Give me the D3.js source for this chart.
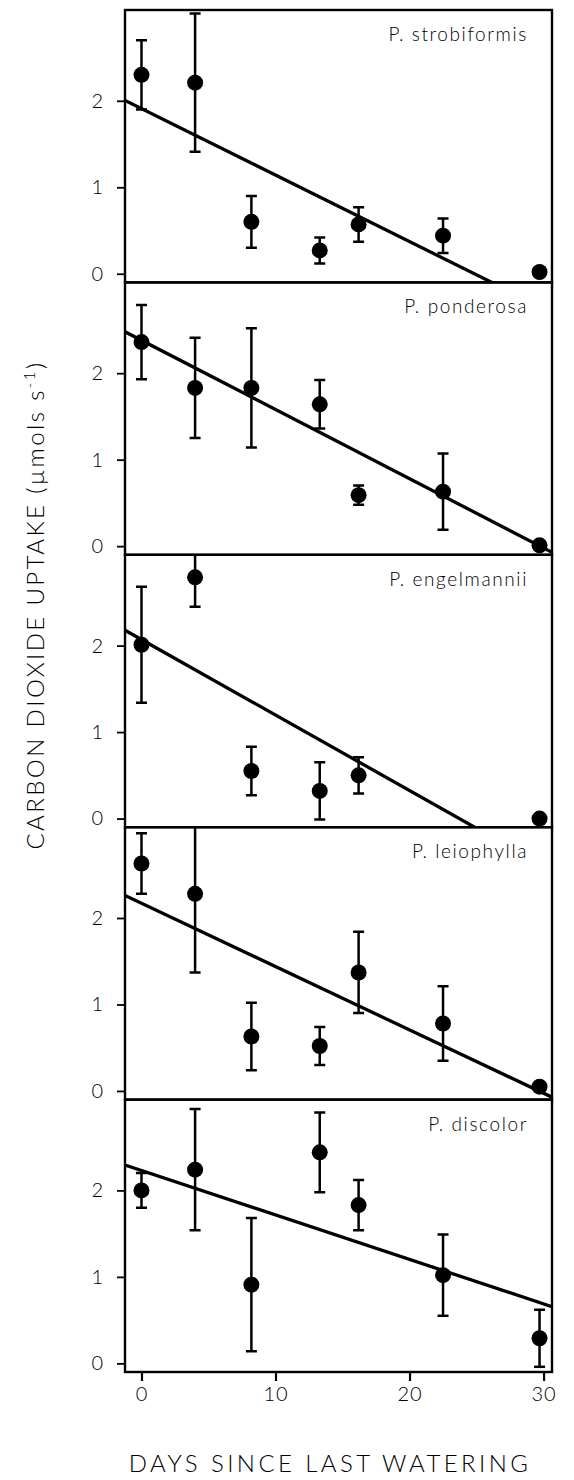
<!DOCTYPE html>
<html>
<head>
<meta charset="utf-8">
<script src="https://cdn.jsdelivr.net/npm/d3@7"></script>
<style>
  body { margin: 0; background: #fff; }
  text { font-family: Lato, "Open Sans", "DejaVu Sans", sans-serif; font-weight: 300; fill: #000; }
</style>
</head>
<body>
<svg id="chart" width="574" height="1480"></svg>
<script>
// Days since last watering at which uptake was measured
const days = [0, 4, 8.2, 13.3, 16.2, 22.5, 29.7];

const species = ["P. strobiformis", "P. ponderosa", "P. engelmannii", "P. leiophylla", "P. discolor"];

// Mean CO2 uptake (µmol s-1) and standard error for each species
const strobiformisMean = [2.30, 2.21, 0.60, 0.27, 0.57, 0.44, 0.02];
const strobiformisErr  = [0.40, 0.80, 0.30, 0.15, 0.20, 0.20, 0];
const ponderosaMean    = [2.36, 1.83, 1.83, 1.64, 0.59, 0.63, 0.01];
const ponderosaErr     = [0.43, 0.58, 0.69, 0.28, 0.11, 0.44, 0];
const engelmanniiMean  = [2.01, 2.79, 0.55, 0.32, 0.50, null, 0.0];
const engelmanniiErr   = [0.67, 0.34, 0.28, 0.33, 0.21, null, 0];
const leiophyllaMean   = [2.63, 2.28, 0.63, 0.52, 1.37, 0.78, 0.05];
const leiophyllaErr    = [0.35, 0.91, 0.39, 0.22, 0.47, 0.43, 0.04];
const discolorMean     = [2.00, 2.24, 0.91, 2.44, 1.83, 1.02, 0.29];
const discolorErr      = [0.20, 0.70, 0.77, 0.46, 0.29, 0.47, 0.33];

// Linear regression fits: uptake = intercept + slope * days
const fitIntercept = [1.91, 2.38, 2.07, 2.17, 2.23];
const fitSlope     = [-0.0769, -0.0800, -0.0873, -0.0732, -0.0514];

const yTicks = [0, 1, 2];
const xTicks = [0, 10, 20, 30];

const means = [strobiformisMean, ponderosaMean, engelmanniiMean, leiophyllaMean, discolorMean];
const errs  = [strobiformisErr, ponderosaErr, engelmanniiErr, leiophyllaErr, discolorErr];

const svg = d3.select("#chart");
const plotLeft = 125, plotRight = 552, plotTop = 10, panelH = 272.4;

const x = d3.scaleLinear().domain([-1.23, 30.63]).range([plotLeft, plotRight]);
const y = d3.scaleLinear().domain([-0.1, 3.05]).range([panelH, 0]);

species.forEach((name, i) => {
  const g = svg.append("g").attr("transform", `translate(0,${plotTop + i * panelH})`);
  const clipId = `clip${i}`;
  g.append("clipPath").attr("id", clipId)
    .append("rect").attr("x", plotLeft).attr("y", 0).attr("width", plotRight - plotLeft).attr("height", panelH);

  // y axis with outward ticks
  const yAxis = g.append("g").attr("transform", `translate(${plotLeft},0)`)
    .call(d3.axisLeft(y).tickValues(yTicks).tickFormat(d3.format("d")).tickSize(8).tickPadding(14));
  yAxis.select(".domain").remove();
  yAxis.selectAll("line").attr("stroke", "#000").attr("stroke-width", 1.8);
  yAxis.selectAll("text").style("font-size", "20px");

  const plot = g.append("g").attr("clip-path", `url(#${clipId})`);

  // regression line
  const fit = d => fitIntercept[i] + fitSlope[i] * d;
  const xd = x.domain();
  plot.append("line")
    .attr("x1", x(xd[0])).attr("y1", y(fit(xd[0])))
    .attr("x2", x(xd[1])).attr("y2", y(fit(xd[1])))
    .attr("stroke", "#000").attr("stroke-width", 3.3);

  const pts = days.map((d, k) => ({ d, m: means[i][k], e: errs[i][k] })).filter(p => p.m !== null);

  // error bars
  const eb = plot.selectAll("g.eb").data(pts.filter(p => p.e > 0)).join("g").attr("class", "eb");
  eb.append("line")
    .attr("x1", p => x(p.d)).attr("x2", p => x(p.d))
    .attr("y1", p => y(p.m + p.e)).attr("y2", p => y(p.m - p.e))
    .attr("stroke", "#000").attr("stroke-width", 2.5);
  [1, -1].forEach(s => {
    eb.append("line")
      .attr("x1", p => x(p.d) - 5.5).attr("x2", p => x(p.d) + 5.5)
      .attr("y1", p => y(p.m + s * p.e)).attr("y2", p => y(p.m + s * p.e))
      .attr("stroke", "#000").attr("stroke-width", 2.5);
  });

  // means
  plot.selectAll("circle").data(pts).join("circle")
    .attr("cx", p => x(p.d)).attr("cy", p => y(p.m)).attr("r", 8).attr("fill", "#000");

  // panel frame
  g.append("rect").attr("x", plotLeft).attr("y", 0).attr("width", plotRight - plotLeft).attr("height", panelH)
    .attr("fill", "none").attr("stroke", "#000").attr("stroke-width", 2.4);

  g.append("text").attr("x", plotRight - 24).attr("y", 31)
    .attr("text-anchor", "end").style("font-size", "19px").style("letter-spacing", "1.6px")
    .text(name);
});

// shared x axis below the last panel
const xAxis = svg.append("g").attr("transform", `translate(0,${plotTop + 5 * panelH})`)
  .call(d3.axisBottom(x).tickValues(xTicks).tickSize(9).tickPadding(6));
xAxis.select(".domain").remove();
xAxis.selectAll("line").attr("stroke", "#000").attr("stroke-width", 2.2);
xAxis.selectAll("text").style("font-size", "20px").style("letter-spacing", "1px");

svg.append("text").attr("x", 330).attr("y", 1472).attr("text-anchor", "middle")
  .style("font-size", "24px").style("letter-spacing", "3.4px")
  .text("DAYS SINCE LAST WATERING");

const yTitle = svg.append("text").attr("transform", "translate(44,605) rotate(-90)")
  .attr("text-anchor", "middle").style("font-size", "24px").style("letter-spacing", "2.4px");
yTitle.append("tspan").text("CARBON DIOXIDE UPTAKE (µmols s");
yTitle.append("tspan").attr("baseline-shift", "super").style("font-size", "15px").text("-1");
yTitle.append("tspan").text(")");
</script>
</body>
</html>
